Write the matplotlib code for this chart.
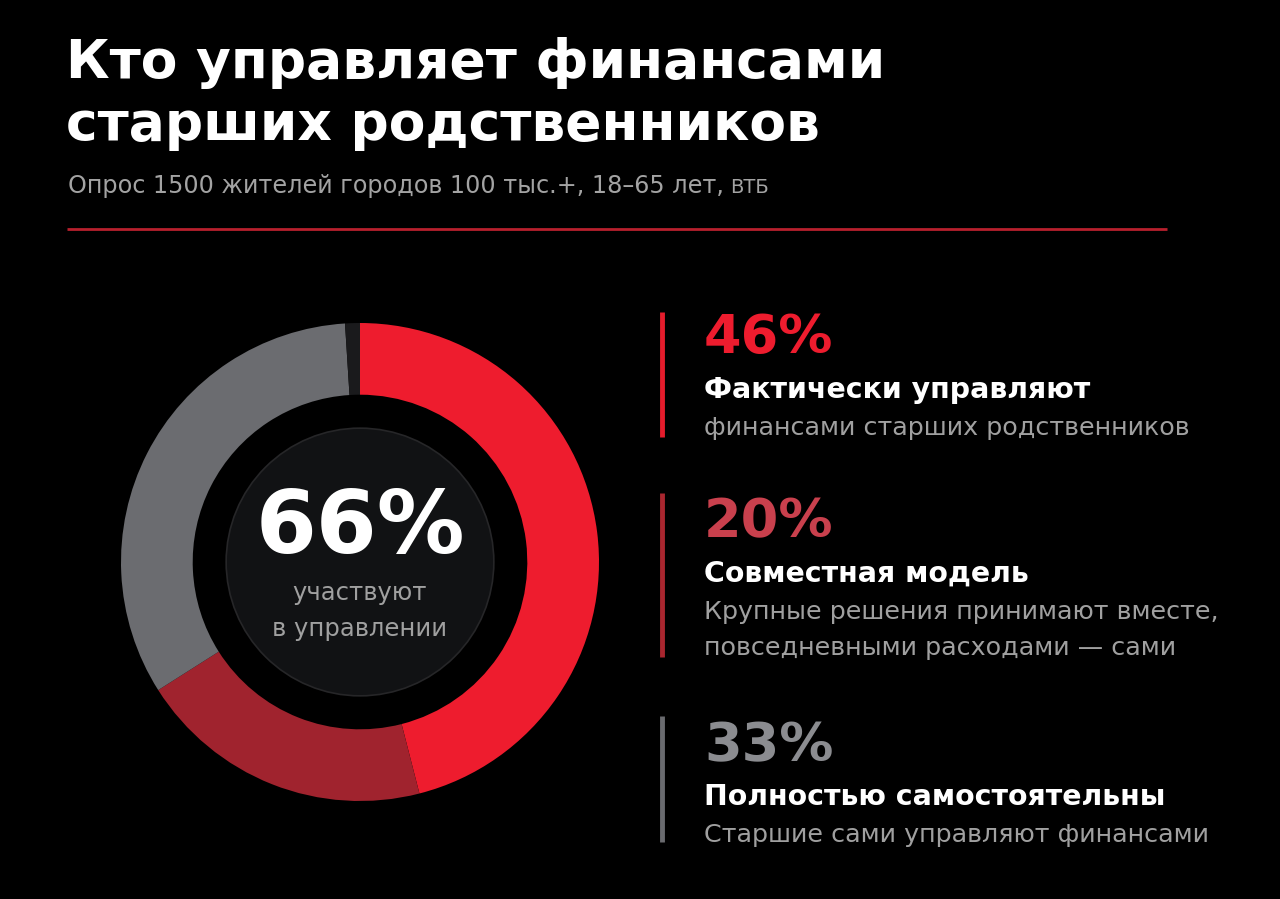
import matplotlib
matplotlib.use("Agg")
import matplotlib.pyplot as plt
from matplotlib.patches import Circle

# ---- data ----
title_lines = ["Кто управляет финансами", "старших родственников"]
subtitle = "Опрос 1500 жителей городов 100 тыс.+, 18–65 лет,"
source = "ВТБ"
segment_names = ["Фактически управляют", "Совместная модель", "Полностью самостоятельны", "Прочее"]
segment_values = [46, 20, 33, 1]
segment_colors = ["#EE1C2E", "#A0232E", "#6B6C70", "#1A1A1C"]
pct_labels = ["46%", "20%", "33%"]
pct_colors = ["#EE1C2E", "#C9404D", "#8B8C90"]
bar_colors = ["#E51C2C", "#A9262F", "#6A6B6F"]
descriptions = [
    ["финансами старших родственников"],
    ["Крупные решения принимают вместе,", "повседневными расходами — сами"],
    ["Старшие сами управляют финансами"],
]
center_value = "66%"
center_caption = ["участвуют", "в управлении"]

BG = "#000000"
W, H = 1280, 899
fig = plt.figure(figsize=(W / 100, H / 100), dpi=100, facecolor=BG)

# overlay axes in pixel coordinates
ov = fig.add_axes([0, 0, 1, 1], facecolor="none")
ov.set_xlim(0, W)
ov.set_ylim(H, 0)
ov.axis("off")
ov.set_zorder(2)

FONT = "DejaVu Sans"

# title
title_base = [78, 140]
for line, y in zip(title_lines, title_base):
    ov.text(66, y, line, color="white", fontsize=38.5, fontweight="bold",
            family=FONT, va="baseline", ha="left")
sub = ov.text(68, 193, subtitle, color="#A3A3A3", fontsize=17.2, family=FONT,
              va="baseline", ha="left")
fig.canvas.draw()
bb = sub.get_window_extent()
ov.text(bb.x1 + 6, 193, source, color="#A3A3A3", fontsize=14, family=FONT,
        va="baseline", ha="left")

ov.plot([67, 1167], [229, 229], color="#B8202D", lw=2, solid_capstyle="butt")

# donut
cx, cy, R = 360, 562, 239
pie_ax = fig.add_axes([(cx - R) / W, (H - cy - R) / H, 2 * R / W, 2 * R / H])
pie_ax.pie(segment_values, colors=segment_colors, startangle=90, counterclock=False,
           radius=1.0, wedgeprops=dict(width=0.30, linewidth=0, edgecolor="none"))
pie_ax.add_patch(Circle((0, 0), 0.56, facecolor="#111214", edgecolor="#262628", lw=1.2))
pie_ax.set_xlim(-1, 1)
pie_ax.set_ylim(-1, 1)
pie_ax.set_aspect("equal")
pie_ax.axis("off")

ov.text(cx, 553, center_value, color="white", fontsize=63, fontweight="bold",
        family=FONT, ha="center", va="baseline")
for line, y in zip(center_caption, [600, 636]):
    ov.text(cx, y, line, color="#A0A0A0", fontsize=17.5, family=FONT,
            ha="center", va="baseline")

# right side blocks
tx = 704
blocks = [
    dict(bar=(312, 437), pct=353, head=398, desc=[435]),
    dict(bar=(493, 657), pct=537, head=582, desc=[619, 655]),
    dict(bar=(716, 842), pct=761, head=805, desc=[842]),
]
for i, b in enumerate(blocks):
    ov.plot([662, 662], list(b["bar"]), color=bar_colors[i], lw=3.5, solid_capstyle="butt")
    ov.text(tx, b["pct"], pct_labels[i], color=pct_colors[i], fontsize=39,
            fontweight="bold", family=FONT, va="baseline", ha="left")
    ov.text(tx, b["head"], segment_names[i], color="white", fontsize=20.4,
            fontweight="bold", family=FONT, va="baseline", ha="left")
    for line, y in zip(descriptions[i], b["desc"]):
        ov.text(tx, y, line, color="#A0A0A0", fontsize=18.3, family=FONT,
                va="baseline", ha="left")

fig.savefig("out.png", dpi=100, facecolor=BG)
